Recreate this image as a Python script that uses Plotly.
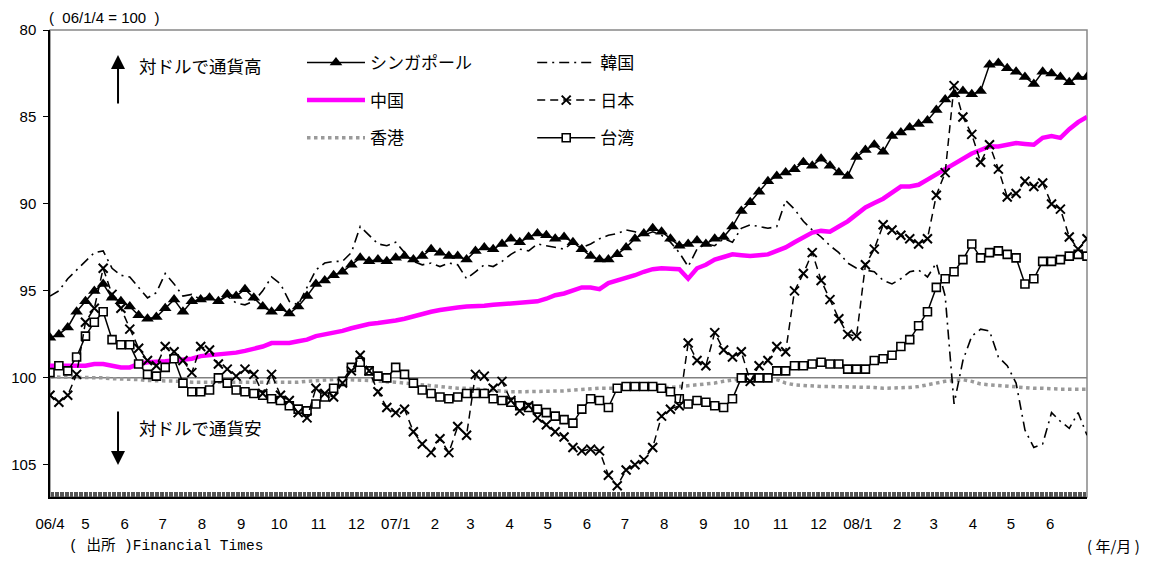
import pandas as pd
import plotly.graph_objects as go

# weekly observation dates (index 2006/1/4 = 100)
dates = pd.date_range("2006-04-03", periods=118, freq="7D")

singapore = [97.7, 97.5, 97.1, 96.2, 95.6, 95.0, 94.6, 95.4, 95.6, 95.9,
             96.4, 96.6, 96.5, 96.0, 95.5, 96.2, 95.6, 95.5, 95.4, 95.6,
             95.2, 95.3, 94.9, 95.4, 95.9, 96.2, 96.0, 96.3, 95.9, 95.3,
             94.6, 94.4, 94.1, 93.9, 93.5, 93.1, 93.3, 93.2, 93.3, 93.1,
             93.0, 93.2, 93.0, 92.6, 92.8, 93.0, 93.0, 93.2, 92.7, 92.5,
             92.6, 92.3, 92.0, 92.2, 91.9, 91.7, 91.8, 92.0, 91.9, 92.2,
             92.6, 93.0, 93.2, 93.2, 92.9, 92.5, 92.0, 91.7, 91.4, 91.6,
             92.0, 92.4, 92.3, 92.1, 92.3, 92.0, 91.9, 91.3, 90.4, 89.9,
             89.3, 88.7, 88.4, 88.2, 88.0, 87.6, 87.8, 87.4, 87.8, 88.2,
             88.4, 87.3, 86.9, 86.6, 87.0, 86.1, 85.9, 85.6, 85.4, 85.2,
             84.6, 84.0, 83.7, 83.5, 83.7, 83.5, 82.0, 81.9, 82.2, 82.4,
             82.7, 83.1, 82.4, 82.5, 82.7, 83.0, 82.7, 82.7]

china = [99.3, 99.3, 99.3, 99.3, 99.3, 99.2, 99.2, 99.3, 99.4, 99.4,
         99.2, 99.1, 99.1, 99.05, 99.0, 98.95, 98.9, 98.75, 98.7, 98.7,
         98.6, 98.55, 98.45, 98.35, 98.2, 98.0, 98.0, 98.0, 97.9, 97.8,
         97.6, 97.5, 97.45, 97.3, 97.15, 97.0, 96.9, 96.85, 96.8, 96.7,
         96.6, 96.45, 96.3, 96.2, 96.1, 96.0, 95.95, 95.9, 95.9, 95.85,
         95.8, 95.75, 95.7, 95.7, 95.65, 95.6, 95.45, 95.25, 95.15, 94.95,
         94.8, 94.8, 94.9, 94.55, 94.4, 94.3, 94.1, 93.9, 93.75, 93.7,
         93.7, 93.75, 94.3, 93.7, 93.5, 93.2, 93.05, 92.9, 92.95, 93.0,
         92.95, 92.9, 92.7, 92.5, 92.2, 91.9, 91.65, 91.55, 91.6, 91.3,
         91.0, 90.6, 90.2, 89.95, 89.7, 89.35, 89.0, 89.0, 88.9, 88.6,
         88.3, 88.0, 87.75, 87.4, 87.1, 86.9, 86.7, 86.7, 86.6, 86.5,
         86.55, 86.6, 86.2, 86.1, 86.2, 85.7, 85.3, 85.0]

hongkong = [99.95, 99.95, 100.0, 100.0, 100.0, 100.0, 100.0, 100.05, 100.05, 100.05,
            100.1, 100.15, 100.15, 100.2, 100.2, 100.2, 100.25, 100.25, 100.3, 100.3,
            100.3, 100.3, 100.3, 100.3, 100.3, 100.3, 100.3, 100.3, 100.25, 100.2,
            100.15, 100.1, 100.1, 100.1, 100.1, 100.1, 100.15, 100.2, 100.2, 100.25,
            100.3, 100.35, 100.4, 100.45, 100.5, 100.55, 100.6, 100.6, 100.65, 100.7,
            100.75, 100.75, 100.8, 100.8, 100.8, 100.8, 100.8, 100.8, 100.75, 100.7,
            100.65, 100.65, 100.6, 100.6, 100.6, 100.6, 100.6, 100.6, 100.6, 100.6,
            100.55, 100.5, 100.45, 100.4, 100.35, 100.3, 100.2, 100.1, 100.05, 100.0,
            100.0, 100.0, 100.1, 100.3, 100.4, 100.45, 100.5, 100.5, 100.5, 100.5,
            100.5, 100.5, 100.5, 100.55, 100.6, 100.6, 100.6, 100.55, 100.5, 100.4,
            100.25, 100.2, 100.15, 100.1, 100.2, 100.35, 100.4, 100.45, 100.5, 100.5,
            100.55, 100.6, 100.6, 100.65, 100.65, 100.65, 100.65, 100.65]

korea = [95.3, 95.0, 94.3, 93.8, 93.3, 92.8, 92.7, 93.7, 94.1, 94.2,
         94.8, 95.4, 95.1, 94.0, 94.6, 95.3, 95.2, 95.5, 95.3, 95.6,
         95.3, 95.7, 95.8, 95.6, 95.0, 94.2, 94.6, 95.6, 95.8, 94.8,
         93.8, 93.4, 93.3, 93.3, 92.8, 91.3, 91.8, 92.3, 92.4, 92.2,
         92.8, 93.3, 93.5, 93.4, 93.6, 93.4, 93.5, 94.3, 93.9, 93.5,
         93.6, 93.3, 92.9, 92.6, 92.7, 92.3, 92.4, 92.5, 92.6, 92.2,
         92.5, 92.3, 92.0, 91.8, 91.7, 91.5, 91.6, 91.8, 91.6, 91.8,
         92.2, 92.8, 93.6, 92.6, 92.3, 92.4, 92.0, 92.2, 91.4, 91.2,
         91.3, 91.4, 91.3, 89.8, 90.3, 91.0, 91.5, 91.9, 92.4, 92.8,
         93.4, 93.7, 93.8, 93.9, 94.4, 94.6, 94.3, 93.9, 93.8, 94.2,
         93.4, 95.3, 101.5, 99.0, 97.6, 97.2, 97.3, 98.8, 99.3, 100.3,
         103.0, 104.0, 103.8, 102.0, 102.5, 102.9, 102.0, 103.3]

japan = [101.0, 101.4, 101.0, 99.8, 96.8, 96.0, 93.7, 95.2, 96.0, 97.2,
         98.3, 99.0, 99.3, 98.2, 98.5, 99.0, 99.7, 98.2, 98.4, 99.2,
         99.5, 99.9, 99.5, 99.8, 100.9, 99.8, 101.0, 101.3, 102.0, 102.3,
         100.6, 100.9, 101.1, 100.3, 99.6, 98.7, 99.6, 100.8, 101.7, 102.0,
         101.8, 103.1, 103.8, 104.3, 103.5, 104.3, 102.8, 103.3, 99.8, 99.9,
         100.6, 100.2, 101.3, 101.9, 101.6, 102.3, 102.7, 103.1, 103.4, 104.0,
         104.2, 104.1, 104.2, 105.6, 106.2, 105.3, 105.0, 104.7, 104.0, 102.2,
         101.8, 101.6, 98.0, 99.0, 99.3, 97.4, 98.4, 98.8, 98.5, 100.2,
         99.3, 99.0, 98.2, 98.5, 95.0, 94.0, 92.8, 94.4, 95.5, 96.6,
         97.5, 97.6, 93.5, 92.6, 91.2, 91.5, 91.8, 92.0, 92.3, 92.0,
         89.5, 88.2, 83.2, 85.0, 86.0, 87.6, 86.6, 88.0, 89.6, 89.4,
         88.7, 89.0, 88.8, 90.0, 90.3, 91.9, 92.6, 92.0]

taiwan = [99.7, 99.3, 99.6, 98.8, 97.6, 96.8, 96.2, 97.8, 98.1, 98.1,
          99.2, 99.8, 99.9, 99.4, 98.9, 100.3, 100.8, 100.8, 100.7, 100.0,
          100.3, 100.7, 100.8, 100.9, 101.0, 101.2, 101.3, 101.6, 101.8, 101.9,
          101.5, 101.1, 100.6, 100.2, 99.4, 99.1, 99.6, 99.9, 100.0, 99.4,
          99.8, 100.3, 100.7, 100.9, 101.1, 101.2, 101.1, 100.9, 100.9, 100.9,
          101.2, 101.3, 101.4, 101.6, 101.7, 101.8, 102.0, 102.2, 102.4, 102.6,
          101.8, 101.2, 101.3, 101.7, 100.6, 100.5, 100.5, 100.5, 100.5, 100.6,
          100.8, 101.2, 101.5, 101.3, 101.4, 101.6, 101.7, 101.2, 100.0, 100.0,
          100.0, 100.0, 99.6, 99.6, 99.3, 99.3, 99.2, 99.1, 99.2, 99.2,
          99.5, 99.5, 99.5, 99.0, 98.9, 98.7, 98.2, 97.8, 97.0, 96.2,
          94.8, 94.3, 93.9, 93.2, 92.3, 93.1, 92.8, 92.7, 92.9, 93.1,
          94.6, 94.3, 93.3, 93.3, 93.2, 93.0, 92.9, 93.0]

month_ticks = [dates[0]] + list(pd.date_range("2006-05-01", "2008-06-01", freq="MS"))
month_labels = ["06/4", "5", "6", "7", "8", "9", "10", "11", "12",
                "07/1", "2", "3", "4", "5", "6", "7", "8", "9", "10", "11", "12",
                "08/1", "2", "3", "4", "5", "6"]

JP = "Noto Sans CJK JP"
NUM = "Liberation Sans, Arial, sans-serif"

fig = go.Figure()

fig.add_trace(go.Scatter(x=dates, y=hongkong, name="香港", mode="lines",
                         line=dict(color="#9a9a9a", width=3.5, dash="dot"),
                         legend="legend", legendgroup="hk", legendrank=3))
fig.add_trace(go.Scatter(x=dates, y=korea, name="韓国", mode="lines",
                         line=dict(color="black", width=1.6, dash="10px,5px,2px,5px"),
                         legend="legend2", legendgroup="kr", legendrank=1))
fig.add_trace(go.Scatter(x=dates, y=china, name="中国", mode="lines",
                         line=dict(color="#ff00ff", width=4.5),
                         legend="legend", legendgroup="cn", legendrank=2))
fig.add_trace(go.Scatter(x=dates, y=taiwan, name="台湾", mode="lines+markers",
                         line=dict(color="black", width=1.5),
                         marker=dict(symbol="square", size=8, color="white",
                                     line=dict(color="black", width=1.6)),
                         legend="legend2", legendgroup="tw", legendrank=3))
fig.add_trace(go.Scatter(x=dates, y=japan, name="日本", mode="lines+markers",
                         line=dict(color="black", width=1.5, dash="8px,5px"),
                         marker=dict(symbol="x-thin", size=9,
                                     line=dict(color="black", width=2)),
                         legend="legend2", legendgroup="jp", legendrank=2))
fig.add_trace(go.Scatter(x=dates, y=singapore, name="シンガポール", mode="lines+markers",
                         line=dict(color="black", width=1.5),
                         marker=dict(symbol="triangle-up", size=11, color="black"),
                         legend="legend", legendgroup="sg", legendrank=1))

legend_common = dict(xanchor="left", yanchor="top", bgcolor="rgba(0,0,0,0)",
                     font=dict(family=JP, size=17), itemwidth=58,
                     tracegroupgap=12.5, traceorder="grouped")

fig.update_layout(
    width=1146, height=553,
    margin=dict(l=42, r=67, t=22, b=64, autoexpand=False),
    paper_bgcolor="white", plot_bgcolor="white",
    font=dict(family=NUM, size=15, color="black"),
    legend=dict(x=0.243, y=0.968, **legend_common),
    legend2=dict(x=0.465, y=0.968, **legend_common),
    xaxis=dict(type="date", range=[dates[0], dates[-1]], automargin=False,
               tickvals=month_ticks, ticktext=month_labels,
               ticks="inside", ticklen=5, tickcolor="#444", tickwidth=1,
               minor=dict(dtick=86400000, ticks="inside", ticklen=5,
                          tickcolor="#555", tickwidth=1),
               showgrid=False, showline=True, linecolor="black", linewidth=2,
               ticklabelstandoff=12,
               tickfont=dict(family=NUM, size=15)),
    yaxis=dict(range=[106.85, 80], tickvals=[80, 85, 90, 95, 100, 105],
               automargin=False,
               ticks="outside", ticklen=5, tickcolor="black",
               showgrid=False, showline=True, linecolor="black", linewidth=1.5,
               zeroline=False, ticklabelstandoff=4,
               tickfont=dict(family=NUM, size=15)),
    shapes=[
        dict(type="rect", xref="paper", yref="paper", x0=0, x1=1, y0=0, y1=1,
             line=dict(color="#888888", width=1.5), layer="below"),
        dict(type="line", xref="paper", yref="y", x0=0, x1=1, y0=100, y1=100,
             line=dict(color="#808080", width=1.5), layer="below"),
    ],
    annotations=[
        dict(text="(  06/1/4 = 100  )", xref="paper", yref="paper", x=-0.003, y=1.026,
             xanchor="left", yanchor="middle", showarrow=False,
             font=dict(family=NUM, size=15)),
        dict(text="対ドルで通貨高", xref="paper", yref="paper", x=0.1447, y=0.923,
             xanchor="center", yanchor="middle", showarrow=False,
             font=dict(family=JP, size=17.5)),
        dict(text="対ドルで通貨安", xref="paper", yref="paper", x=0.1447, y=0.148,
             xanchor="center", yanchor="middle", showarrow=False,
             font=dict(family=JP, size=17.5)),
        dict(text="", xref="paper", yref="paper", x=0.0656, y=0.9465,
             ax=0, ay=50, showarrow=True, arrowhead=2, arrowsize=1.4,
             arrowwidth=2, arrowcolor="black"),
        dict(text="", xref="paper", yref="paper", x=0.0656, y=0.0685,
             ax=0, ay=-55, showarrow=True, arrowhead=2, arrowsize=1.4,
             arrowwidth=2, arrowcolor="black"),
        dict(text="( 出所 )Financial Times", xref="paper", yref="paper",
             x=0.016, y=-0.103, xanchor="left", yanchor="middle", showarrow=False,
             font=dict(family="Liberation Mono, Noto Sans CJK JP", size=14.5)),
        dict(text="( 年/月 )", xref="paper", yref="paper",
             x=1.026, y=-0.103, xanchor="center", yanchor="middle", showarrow=False,
             font=dict(family=JP, size=15)),
    ],
)

fig.write_html("out.html")
